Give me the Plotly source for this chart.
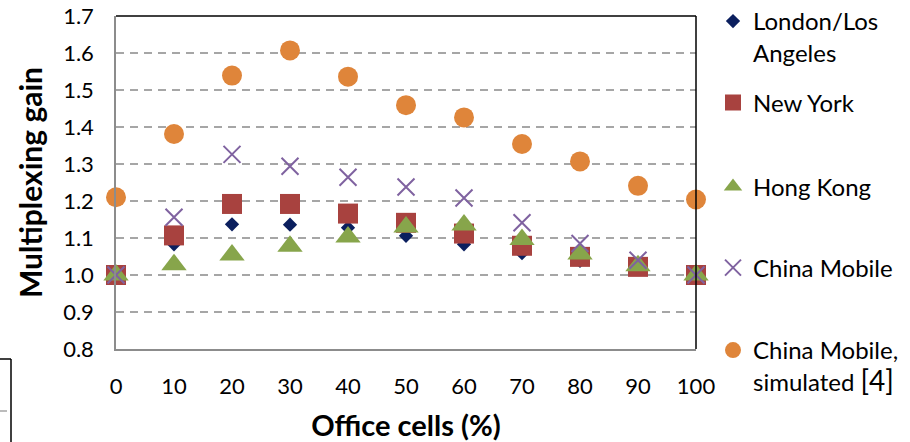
import plotly.graph_objects as go

# ---- data ----
office_cells = [0, 10, 20, 30, 40, 50, 60, 70, 80, 90, 100]
london_la = [1.00, 1.083, 1.137, 1.136, 1.128, 1.106, 1.083, 1.059, 1.038, 1.020, 1.00]
new_york = [1.00, 1.107, 1.192, 1.192, 1.166, 1.141, 1.112, 1.079, 1.049, 1.022, 1.00]
hong_kong = [1.00, 1.028, 1.054, 1.078, 1.103, 1.130, 1.135, 1.096, 1.057, 1.025, 1.00]
china_mobile = [1.00, 1.156, 1.326, 1.294, 1.264, 1.238, 1.208, 1.141, 1.085, 1.040, 1.00]
china_mobile_sim = [1.21, 1.381, 1.539, 1.607, 1.536, 1.459, 1.426, 1.354, 1.307, 1.241, 1.204]

names = ["London/Los<br>Angeles", "New York", "Hong Kong", "China Mobile",
         "China Mobile,<br>simulated <span style='font-size:28px'>[4]</span>"]
y_ticks = [0.8, 0.9, 1.0, 1.1, 1.2, 1.3, 1.4, 1.5, 1.6, 1.7]
x_ticks = office_cells

# ---- layout geometry ----
W, H = 910, 442
ML, MR, MT, MB = 116, 214, 16, 93
PW, PH = W - ML - MR, H - MT - MB
FONT = "Lato"

def px(xp):
    return (xp - ML) / PW

def py(yp):
    return (H - MB - yp) / PH

styles = [
    dict(symbol="diamond", size=11, color="#0b1f5e", line=dict(width=0)),
    dict(symbol="square", size=20, color="#a8423f", line=dict(width=0)),
    dict(symbol="triangle-up", size=22, color="#87a54b", line=dict(width=0)),
    dict(symbol="x-thin", size=17, color="#7f62a0", line=dict(width=2, color="#7f62a0")),
    dict(symbol="circle", size=20, color="#df853a", line=dict(width=0)),
]
series = [london_la, new_york, hong_kong, china_mobile, china_mobile_sim]
legend_centers = [37, 103, 187, 268, 366]

fig = go.Figure()
for i, (ys, nm, st) in enumerate(zip(series, names, styles)):
    fig.add_trace(go.Scatter(
        x=office_cells, y=ys, mode="markers", name=nm, marker=st,
        cliponaxis=False, legend="legend" if i == 0 else f"legend{i+1}",
    ))

legend_common = dict(
    xref="paper", yref="paper", x=px(713), xanchor="left",
    yanchor="middle", bgcolor="rgba(0,0,0,0)", borderwidth=0,
    font=dict(family=FONT, size=24, color="#000000"), valign="top",
    itemsizing="trace",
)
layout_legends = {}
for i, yc in enumerate(legend_centers):
    key = "legend" if i == 0 else f"legend{i+1}"
    layout_legends[key] = dict(legend_common, y=py(yc))

fig.update_layout(
    width=W, height=H, autosize=False,
    margin=dict(l=ML, r=MR, t=MT, b=MB, pad=0, autoexpand=False),
    paper_bgcolor="white", plot_bgcolor="white",
    font=dict(family=FONT, size=22, color="#000000"),
    showlegend=True,
    xaxis=dict(
        range=[0, 100], tickmode="array", tickvals=x_ticks,
        ticktext=[str(v) for v in x_ticks],
        showgrid=False, zeroline=False,
        showline=True, linecolor="#8c8c8c", linewidth=1.5,
        ticks="outside", ticklen=17, tickcolor="rgba(0,0,0,0)",
        tickfont=dict(family=FONT, size=22, color="#000000"),
        title=dict(text="<b>Office cells (%)</b>", standoff=25,
                   font=dict(family=FONT, size=29, color="#000000")),
    ),
    yaxis=dict(
        range=[0.8, 1.7], tickmode="array", tickvals=y_ticks,
        ticktext=[f"{v:.1f}" for v in y_ticks],
        showgrid=True, gridcolor="#a6a6a6", gridwidth=1.5, griddash="8px,6px",
        zeroline=False,
        showline=True, linecolor="#8c8c8c", linewidth=1.5,
        ticks="outside", ticklen=16, tickcolor="rgba(0,0,0,0)",
        tickfont=dict(family=FONT, size=22, color="#000000"),
        title=dict(text="<b>Multiplexing gain</b>", standoff=12,
                   font=dict(family=FONT, size=30, color="#000000")),
    ),
    **layout_legends,
)

# plot-area frame: top and right borders black
fig.add_shape(type="line", xref="paper", yref="paper", x0=0, x1=1, y0=1, y1=1,
              line=dict(color="#000000", width=1.5))
fig.add_shape(type="line", xref="paper", yref="paper", x0=1, x1=1, y0=0, y1=1,
              line=dict(color="#000000", width=1.5))

# cropped-box fragment at the bottom-left of the picture
fig.add_shape(type="line", xref="paper", yref="paper", x0=px(0), x1=px(11),
              y0=py(359), y1=py(359), line=dict(color="#000000", width=1.5))
fig.add_shape(type="line", xref="paper", yref="paper", x0=px(11), x1=px(11),
              y0=py(359), y1=py(442), line=dict(color="#000000", width=1.5))
fig.add_shape(type="line", xref="paper", yref="paper", x0=px(0), x1=px(7),
              y0=py(411), y1=py(411), line=dict(color="#a6a6a6", width=1.5))

fig.write_html("out.html")
